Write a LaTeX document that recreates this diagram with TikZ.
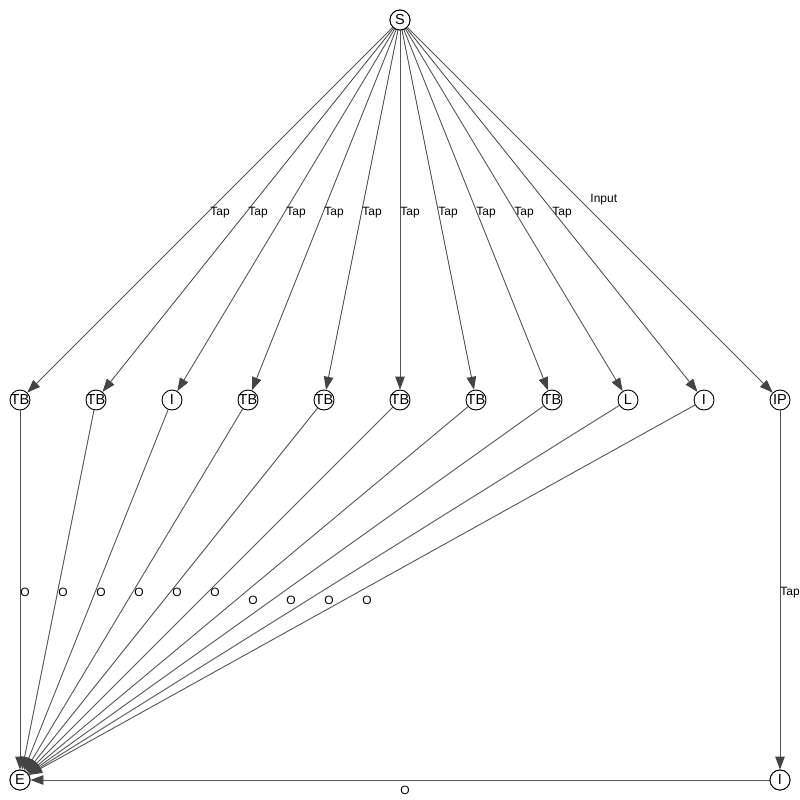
\documentclass[tikz,border=0pt]{standalone}
\usepackage{fontspec}
\setmainfont{Liberation Sans}
\usetikzlibrary{arrows.meta}
\definecolor{edgegray}{RGB}{85,85,85}
\definecolor{headgray}{RGB}{68,68,68}
\begin{document}
\begin{tikzpicture}[x=1pt,y=-1pt,
  vertex/.style={circle,draw=black,fill=white,line width=0.9pt,minimum size=20pt,
    inner sep=0pt,font=\fontsize{14.5}{14.5}\selectfont},
  flow/.style={draw=edgegray,line width=0.9pt,
    -{Triangle[length=13pt,width=9.5pt,color=headgray]}},
  lbl/.style={anchor=west,inner sep=0pt,yshift=-2.5pt,font=\fontsize{12}{12}\selectfont},
  low/.style={yshift=-7.5pt},
  high/.style={yshift=13pt}]
\clip (0,0) rectangle (800,800);
\fill[white] (0,0) rectangle (800,800);

% source and sink
\node[vertex] (S) at (400,20) {\makebox[0pt]{S}};
\node[vertex] (E) at (20,780) {\makebox[0pt]{E}};
\node[vertex] (Ib) at (780,780) {\makebox[0pt]{I}};

% middle row
\foreach \t [count=\k] in {TB,TB,I,TB,TB,TB,TB,TB,L,I,IP}
  \node[vertex] (m\k) at ({20+76*(\k-1)},400) {\makebox[0pt]{\t}};

% source fan-out
\foreach \k in {1,...,10}
  \draw[flow] (S) -- node[lbl,pos=0.5] {Tap} (m\k);
\draw[flow] (S) -- node[lbl,pos=0.5,high] {Input} (m11);

% fan-in to the sink
\foreach \k in {1,...,6}
  \draw[flow] (m\k) -- node[lbl,pos=0.5] {O} (E);
\foreach \k in {7,...,10}
  \draw[flow] (m\k) -- node[lbl,pos=0.5,low] {O} (E);

% right branch
\draw[flow] (m11) -- node[lbl,pos=0.5] {Tap} (Ib);
\draw[flow] (Ib) -- node[lbl,pos=0.5,low] {O} (E);

% redraw nodes above the arrow tips
\node[vertex] at (S) {\makebox[0pt]{S}};
\node[vertex] at (E) {\makebox[0pt]{E}};
\node[vertex] at (Ib) {\makebox[0pt]{I}};
\end{tikzpicture}
\end{document}
